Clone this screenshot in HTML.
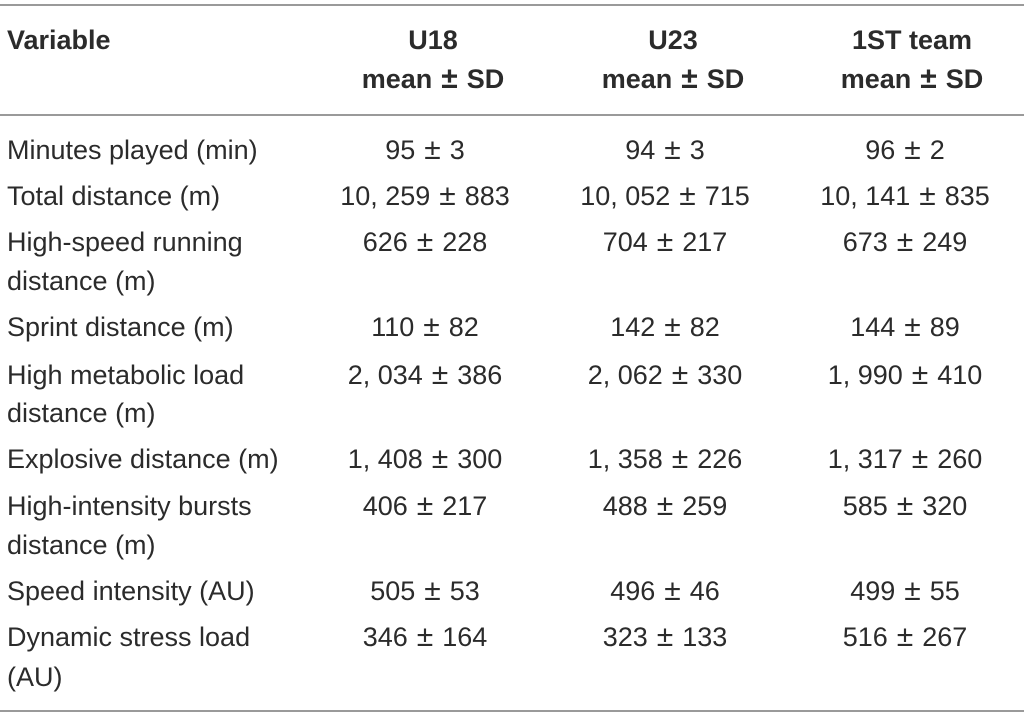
<!DOCTYPE html>
<html><head><meta charset="utf-8"><style>
body{margin:0;width:1024px;height:718px;background:#fff;position:relative;overflow:hidden;font-family:"Liberation Sans",Arial,sans-serif;color:#2b2b2b;font-size:27px}
.l{position:absolute;left:0;width:1024px;height:2px;background:#9a9a9a}
.t{position:absolute;white-space:nowrap;line-height:30px}
.c{position:absolute;white-space:nowrap;line-height:30px;width:300px;text-align:center}
b{font-weight:bold}
i{font-style:normal;display:inline-block;margin:0 9px;font-size:30px;line-height:30px}
</style></head><body>
<div class="l" style="top:4px"></div>
<div class="l" style="top:114px"></div>
<div class="l" style="top:710px"></div>
<div class="t" style="left:7px;top:25px"><b>Variable</b></div>
<div class="c" style="left:283px;top:25px"><b>U18</b></div>
<div class="c" style="left:283px;top:64px"><b>mean<i>±</i>SD</b></div>
<div class="c" style="left:523px;top:25px"><b>U23</b></div>
<div class="c" style="left:523px;top:64px"><b>mean<i>±</i>SD</b></div>
<div class="c" style="left:762px;top:25px"><b>1ST team</b></div>
<div class="c" style="left:762px;top:64px"><b>mean<i>±</i>SD</b></div>

<div class="t" style="left:7px;top:135px">Minutes played (min)</div>
<div class="c" style="left:275px;top:135px">95<i>±</i>3</div>
<div class="c" style="left:515px;top:135px">94<i>±</i>3</div>
<div class="c" style="left:755px;top:135px">96<i>±</i>2</div>

<div class="t" style="left:7px;top:181px">Total distance (m)</div>
<div class="c" style="left:275px;top:181px">10, 259<i>±</i>883</div>
<div class="c" style="left:515px;top:181px">10, 052<i>±</i>715</div>
<div class="c" style="left:755px;top:181px">10, 141<i>±</i>835</div>

<div class="t" style="left:7px;top:227px">High-speed running</div>
<div class="t" style="left:7px;top:266px">distance (m)</div>
<div class="c" style="left:275px;top:227px">626<i>±</i>228</div>
<div class="c" style="left:515px;top:227px">704<i>±</i>217</div>
<div class="c" style="left:755px;top:227px">673<i>±</i>249</div>

<div class="t" style="left:7px;top:312px">Sprint distance (m)</div>
<div class="c" style="left:275px;top:312px">110<i>±</i>82</div>
<div class="c" style="left:515px;top:312px">142<i>±</i>82</div>
<div class="c" style="left:755px;top:312px">144<i>±</i>89</div>

<div class="t" style="left:7px;top:360px">High metabolic load</div>
<div class="t" style="left:7px;top:398px">distance (m)</div>
<div class="c" style="left:275px;top:360px">2, 034<i>±</i>386</div>
<div class="c" style="left:515px;top:360px">2, 062<i>±</i>330</div>
<div class="c" style="left:755px;top:360px">1, 990<i>±</i>410</div>

<div class="t" style="left:7px;top:444px">Explosive distance (m)</div>
<div class="c" style="left:275px;top:444px">1, 408<i>±</i>300</div>
<div class="c" style="left:515px;top:444px">1, 358<i>±</i>226</div>
<div class="c" style="left:755px;top:444px">1, 317<i>±</i>260</div>

<div class="t" style="left:7px;top:491px">High-intensity bursts</div>
<div class="t" style="left:7px;top:530px">distance (m)</div>
<div class="c" style="left:275px;top:491px">406<i>±</i>217</div>
<div class="c" style="left:515px;top:491px">488<i>±</i>259</div>
<div class="c" style="left:755px;top:491px">585<i>±</i>320</div>

<div class="t" style="left:7px;top:576px">Speed intensity (AU)</div>
<div class="c" style="left:275px;top:576px">505<i>±</i>53</div>
<div class="c" style="left:515px;top:576px">496<i>±</i>46</div>
<div class="c" style="left:755px;top:576px">499<i>±</i>55</div>

<div class="t" style="left:7px;top:622px">Dynamic stress load</div>
<div class="t" style="left:7px;top:662px">(AU)</div>
<div class="c" style="left:275px;top:622px">346<i>±</i>164</div>
<div class="c" style="left:515px;top:622px">323<i>±</i>133</div>
<div class="c" style="left:755px;top:622px">516<i>±</i>267</div>
</body></html>
